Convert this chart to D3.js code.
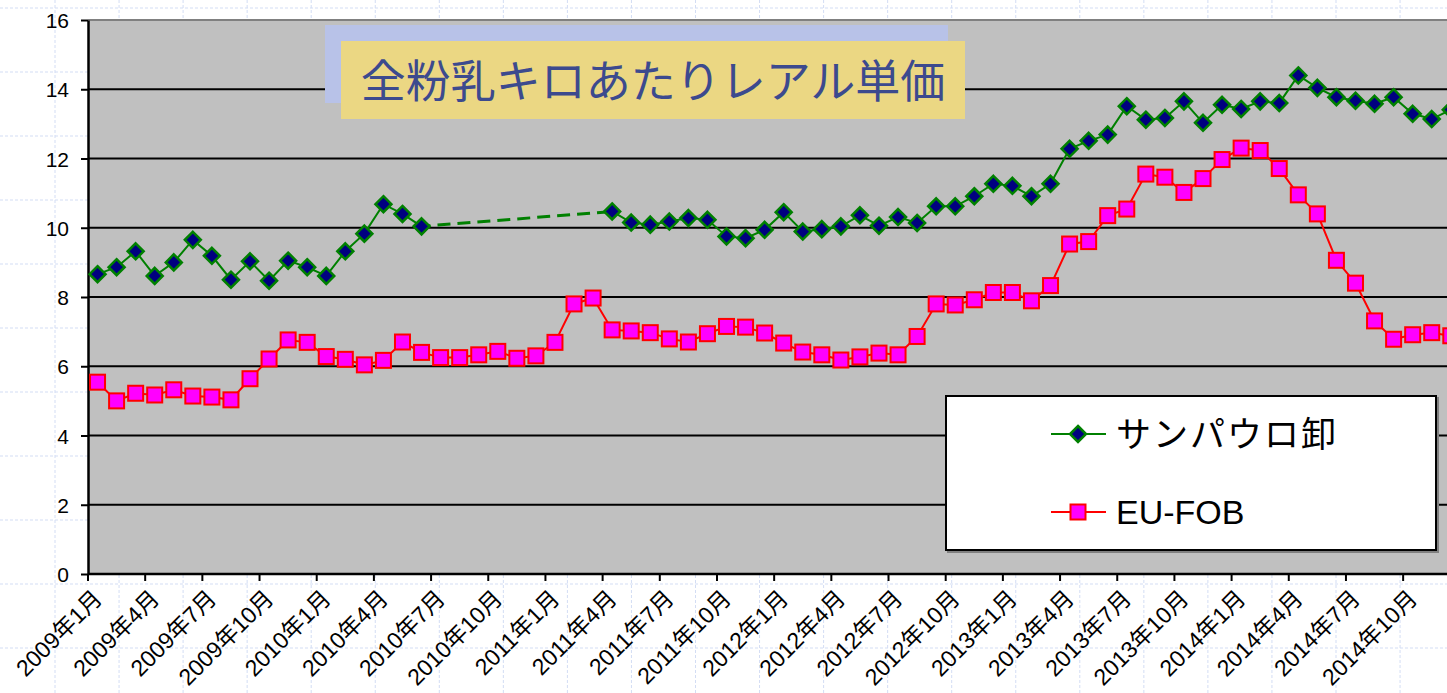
<!DOCTYPE html>
<html>
<head>
<meta charset="utf-8">
<script src="https://cdn.jsdelivr.net/npm/d3@7"></script>
<style>
  html, body { margin: 0; padding: 0; background: #fff; overflow: hidden; }
  svg { display: block; }
</style>
</head>
<body>
<script>
// Monthly categories, Jan 2009 – Dec 2014
const years = [2009, 2010, 2011, 2012, 2013, 2014];
const monthNums = [1, 2, 3, 4, 5, 6, 7, 8, 9, 10, 11, 12];
const months = years.flatMap(y => monthNums.map(m => `${y}年${m}月`));

// São Paulo wholesale price (null = no data, bridged with a dashed line)
const saoPaulo = [
  8.66, 8.86, 9.32, 8.61, 9.00, 9.65, 9.19, 8.50, 9.03, 8.47, 9.05, 8.86,
  8.61, 9.32, 9.83, 10.68, 10.40, 10.04, null, null, null, null, null, null,
  null, null, null, 10.47, 10.15, 10.09, 10.18, 10.28, 10.23, 9.75, 9.70, 9.94,
  10.45, 9.89, 9.96, 10.04, 10.36, 10.06, 10.31, 10.14, 10.62, 10.62, 10.91, 11.27,
  11.21, 10.91, 11.27, 12.28, 12.51, 12.69, 13.51, 13.12, 13.17, 13.65, 13.03, 13.55,
  13.43, 13.65, 13.60, 14.40, 14.04, 13.77, 13.67, 13.58, 13.77, 13.29, 13.14, 13.41
];

// EU FOB price
const euFob = [
  5.54, 5.00, 5.22, 5.17, 5.32, 5.14, 5.11, 5.03, 5.64, 6.21, 6.76, 6.69,
  6.28, 6.20, 6.04, 6.17, 6.70, 6.40, 6.25, 6.25, 6.33, 6.43, 6.23, 6.30,
  6.69, 7.80, 7.97, 7.05, 7.02, 6.97, 6.79, 6.70, 6.94, 7.15, 7.13, 6.96,
  6.67, 6.41, 6.33, 6.18, 6.27, 6.38, 6.33, 6.86, 7.80, 7.77, 7.92, 8.13,
  8.13, 7.89, 8.33, 9.53, 9.60, 10.35, 10.54, 11.55, 11.46, 11.02, 11.42, 11.97,
  12.30, 12.23, 11.71, 10.95, 10.40, 9.06, 8.40, 7.31, 6.78, 6.91, 6.97, 6.88
];

const yTicks = [0, 2, 4, 6, 8, 10, 12, 14, 16];
const seriesNames = ["サンパウロ卸", "EU-FOB"];
const titleText = "全粉乳キロあたりレアル単価";

const W = 1447, H = 693;
const plot = { left: 88, top: 20, bottom: 574, right: 88 + 72 * 19.06 };

const svg = d3.select("body").append("svg")
  .attr("width", W).attr("height", H);

// faint worksheet cell grid behind the chart
const cellGrid = svg.append("g")
  .attr("stroke", "#d3ddf4").attr("stroke-width", 1).attr("stroke-dasharray", "3,2");
d3.range(55, W, 64.05).forEach(x => cellGrid.append("line")
  .attr("x1", x).attr("x2", x).attr("y1", 0).attr("y2", H));
d3.range(8, H, 64).forEach(y => cellGrid.append("line")
  .attr("x1", 0).attr("x2", W).attr("y1", y).attr("y2", y));

const x = d3.scaleBand().domain(months).range([plot.left, plot.right]).padding(0);
const cx = m => x(m) + x.bandwidth() / 2;
const y = d3.scaleLinear().domain([0, 16]).range([plot.bottom, plot.top]);

// plot area
svg.append("rect")
  .attr("x", plot.left).attr("y", plot.top)
  .attr("width", plot.right - plot.left).attr("height", plot.bottom - plot.top)
  .attr("fill", "#c0c0c0");
svg.append("line")
  .attr("x1", plot.left).attr("x2", plot.right)
  .attr("y1", plot.top).attr("y2", plot.top)
  .attr("stroke", "#808080").attr("stroke-width", 2);

// horizontal gridlines
svg.append("g").selectAll("line")
  .data(yTicks.filter(v => v > 0 && v < 16))
  .join("line")
  .attr("x1", plot.left).attr("x2", plot.right)
  .attr("y1", d => y(d)).attr("y2", d => y(d))
  .attr("stroke", "#000").attr("stroke-width", 2);

// y axis
const yAxis = svg.append("g")
  .attr("transform", `translate(${plot.left},0)`)
  .call(d3.axisLeft(y).tickValues(yTicks).tickSize(7).tickPadding(12).tickSizeOuter(0));
yAxis.select(".domain").attr("stroke", "#000").attr("stroke-width", 2.5);
yAxis.selectAll(".tick line").attr("stroke", "#000").attr("stroke-width", 2);
yAxis.selectAll(".tick text")
  .attr("font-family", "'Liberation Sans', Arial, sans-serif")
  .attr("font-size", 21).attr("fill", "#000").attr("dy", "0.36em");

// x axis: tick marks between categories every quarter, labels rotated
const quarterMonths = months.filter((m, i) => i % 3 === 0);
const xAxis = svg.append("g");
xAxis.append("line")
  .attr("x1", plot.left).attr("x2", plot.right)
  .attr("y1", plot.bottom).attr("y2", plot.bottom)
  .attr("stroke", "#000").attr("stroke-width", 2.5);
xAxis.selectAll("line.tick").data(quarterMonths).join("line")
  .attr("class", "tick")
  .attr("x1", d => x(d)).attr("x2", d => x(d))
  .attr("y1", plot.bottom).attr("y2", plot.bottom + 7)
  .attr("stroke", "#000").attr("stroke-width", 2);
xAxis.selectAll("text").data(quarterMonths).join("text")
  .attr("transform", d => `translate(${cx(d) + 6},${plot.bottom + 26}) rotate(-45)`)
  .attr("text-anchor", "end")
  .attr("font-family", "'Liberation Sans', Arial, 'Noto Sans CJK JP', sans-serif")
  .attr("font-size", 23).attr("fill", "#000")
  .text(d => d);

// data series
const green = "#008000", navy = "#000080", red = "#ff0000", magenta = "#ff00ff";
const spPts = months.map((m, i) => ({ m, v: saoPaulo[i] }));
const euPts = months.map((m, i) => ({ m, v: euFob[i] }));

const line = d3.line().defined(d => d.v != null).x(d => cx(d.m)).y(d => y(d.v));

// dashed bridge across the months with no wholesale data
const gapStart = saoPaulo.findIndex((v, i) => v == null && saoPaulo[i - 1] != null) - 1;
const gapEnd = saoPaulo.findIndex((v, i) => i > gapStart && v != null && saoPaulo[i - 1] == null);
svg.append("path")
  .attr("d", d3.line().x(d => cx(d.m)).y(d => y(d.v))([spPts[gapStart], spPts[gapEnd]]))
  .attr("fill", "none").attr("stroke", green).attr("stroke-width", 3)
  .attr("stroke-dasharray", "13,7").attr("stroke-dashoffset", -16);

svg.append("path").attr("d", line(spPts))
  .attr("fill", "none").attr("stroke", green).attr("stroke-width", 2);
svg.append("path").attr("d", line(euPts))
  .attr("fill", "none").attr("stroke", red).attr("stroke-width", 2);

const diamond = s => `M0,${-s}L${s},0L0,${s}L${-s},0Z`;
svg.append("g").selectAll("path")
  .data(spPts.filter(d => d.v != null)).join("path")
  .attr("transform", d => `translate(${cx(d.m)},${y(d.v)})`)
  .attr("d", diamond(8))
  .attr("fill", navy).attr("stroke", green).attr("stroke-width", 2.5);

svg.append("g").selectAll("rect")
  .data(euPts).join("rect")
  .attr("x", d => cx(d.m) - 7.5).attr("y", d => y(d.v) - 7.5)
  .attr("width", 15).attr("height", 15)
  .attr("fill", magenta).attr("stroke", red).attr("stroke-width", 2);

// title panel
svg.append("rect").attr("x", 325).attr("y", 25).attr("width", 623).attr("height", 78)
  .attr("fill", "#b8c2e8");
svg.append("rect").attr("x", 341).attr("y", 41).attr("width", 624).attr("height", 78)
  .attr("fill", "#ebd783");
svg.append("text")
  .attr("x", 653).attr("y", 98)
  .attr("text-anchor", "middle")
  .attr("font-family", "'Noto Sans CJK JP', sans-serif")
  .attr("font-size", 45).attr("fill", "#3c4a8e")
  .text(titleText);

// legend
const lg = svg.append("g");
lg.append("rect").attr("x", 948).attr("y", 398).attr("width", 490).attr("height", 154)
  .attr("fill", "none").attr("stroke", "#808080").attr("stroke-width", 2);
lg.append("rect").attr("x", 946).attr("y", 396).attr("width", 490).attr("height", 154)
  .attr("fill", "#fff").attr("stroke", "#000").attr("stroke-width", 2);
const legendRows = [
  { name: seriesNames[0], y: 434, color: green, font: "'Noto Sans CJK JP', sans-serif", spacing: 2, size: 35 },
  { name: seriesNames[1], y: 512, color: red, font: "'Liberation Sans', Arial, sans-serif", spacing: 0, size: 34 }
];
legendRows.forEach((r, i) => {
  lg.append("line").attr("x1", 1051).attr("x2", 1106).attr("y1", r.y).attr("y2", r.y)
    .attr("stroke", r.color).attr("stroke-width", 2);
  if (i === 0) {
    lg.append("path").attr("transform", `translate(1078,${r.y})`).attr("d", diamond(8))
      .attr("fill", navy).attr("stroke", green).attr("stroke-width", 2.5);
  } else {
    lg.append("rect").attr("x", 1078 - 7.5).attr("y", r.y - 7.5).attr("width", 15).attr("height", 15)
      .attr("fill", magenta).attr("stroke", red).attr("stroke-width", 2);
  }
  lg.append("text").attr("x", 1116).attr("y", r.y).attr("dy", "0.36em")
    .attr("font-family", r.font).attr("letter-spacing", r.spacing)
    .attr("font-size", r.size).attr("fill", "#000")
    .text(r.name);
});
</script>
</body>
</html>
